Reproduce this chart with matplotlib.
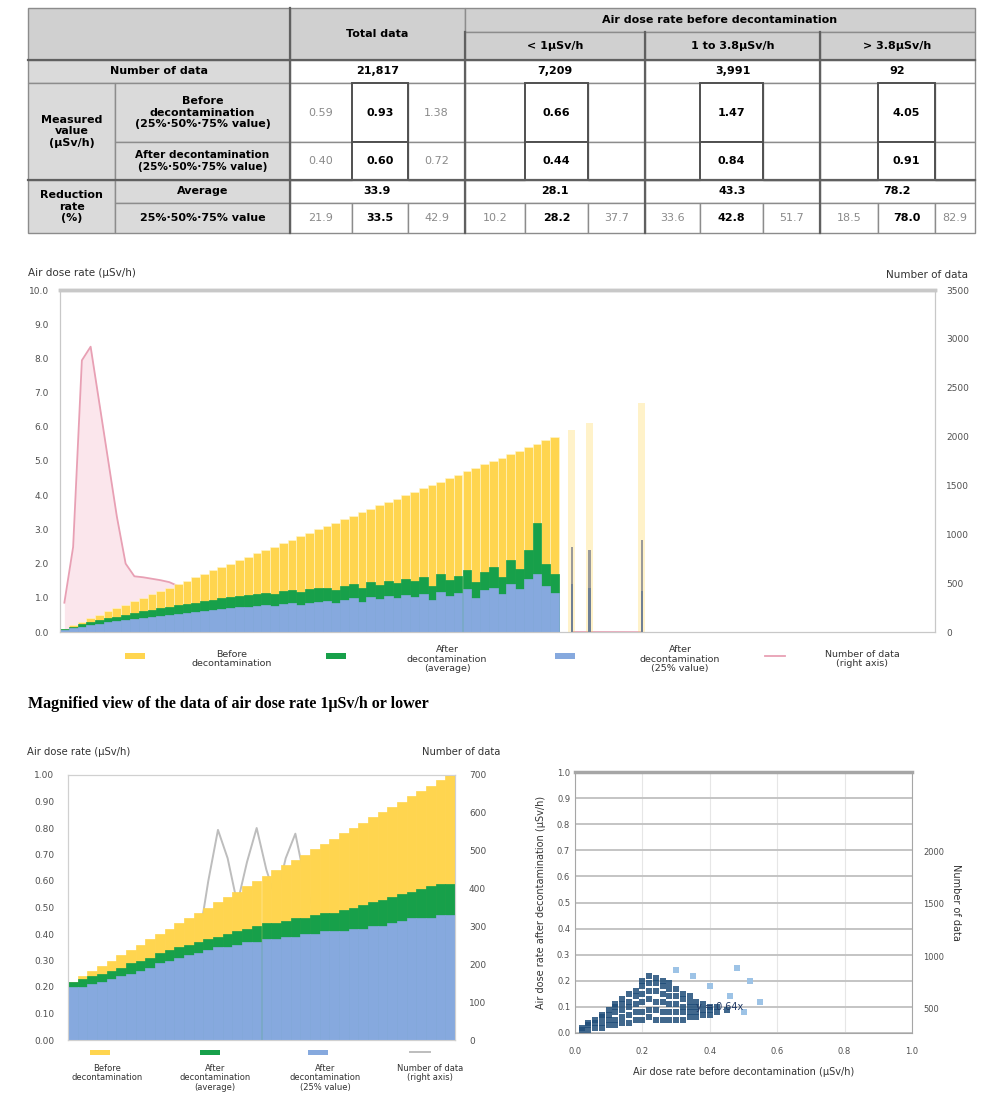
import matplotlib.pyplot as plt
from matplotlib.patches import Rectangle
import numpy as np

plt.rcParams['font.family'] = ['DejaVu Sans']

# ---------------- table data ----------------
group_names = ['< 1μSv/h', '1 to 3.8μSv/h', '> 3.8μSv/h']
n_data = ['21,817', '7,209', '3,991', '92']
before_vals = [['0.59', '0.93', '1.38'], ['', '0.66', ''], ['', '1.47', ''], ['', '4.05', '']]
after_vals = [['0.40', '0.60', '0.72'], ['', '0.44', ''], ['', '0.84', ''], ['', '0.91', '']]
red_avg = ['33.9', '28.1', '43.3', '78.2']
red_q = [['21.9', '33.5', '42.9'], ['10.2', '28.2', '37.7'],
         ['33.6', '42.8', '51.7'], ['18.5', '78.0', '82.9']]

# ---------------- main chart data (bins of before-decontamination dose rate) ----------------
main_bins = [0.1, 0.2, 0.3, 0.4, 0.5, 0.6, 0.7, 0.8, 0.9, 1.0,
             1.1, 1.2, 1.3, 1.4, 1.5, 1.6, 1.7, 1.8, 1.9, 2.0,
             2.1, 2.2, 2.3, 2.4, 2.5, 2.6, 2.7, 2.8, 2.9, 3.0,
             3.1, 3.2, 3.3, 3.4, 3.5, 3.6, 3.7, 3.8, 3.9, 4.0,
             4.1, 4.2, 4.3, 4.4, 4.5, 4.6, 4.7, 4.8, 4.9, 5.0,
             5.1, 5.2, 5.3, 5.4, 5.5, 5.6, 5.7]
main_after_avg = [0.08, 0.15, 0.22, 0.28, 0.34, 0.40, 0.45, 0.50, 0.55, 0.60,
                  0.65, 0.70, 0.74, 0.78, 0.82, 0.86, 0.90, 0.94, 0.98, 1.02,
                  1.05, 1.08, 1.12, 1.15, 1.10, 1.20, 1.22, 1.18, 1.25, 1.28,
                  1.30, 1.22, 1.35, 1.40, 1.28, 1.45, 1.38, 1.50, 1.42, 1.55,
                  1.48, 1.60, 1.35, 1.70, 1.52, 1.65, 1.80, 1.45, 1.75, 1.90,
                  1.60, 2.10, 1.85, 2.40, 3.20, 2.00, 1.70]
main_after_25 = [0.06, 0.11, 0.16, 0.20, 0.24, 0.28, 0.32, 0.35, 0.38, 0.42,
                 0.45, 0.48, 0.51, 0.54, 0.56, 0.59, 0.62, 0.64, 0.67, 0.70,
                 0.72, 0.74, 0.76, 0.78, 0.75, 0.82, 0.84, 0.80, 0.86, 0.88,
                 0.90, 0.85, 0.94, 0.98, 0.88, 1.02, 0.96, 1.05, 0.98, 1.08,
                 1.02, 1.12, 0.95, 1.18, 1.05, 1.15, 1.25, 1.00, 1.22, 1.30,
                 1.10, 1.40, 1.25, 1.55, 1.70, 1.35, 1.15]
main_count = [300, 870, 2780, 2920, 2340, 1760, 1180, 700, 570, 560,
              545, 530, 510, 470, 420, 370, 320, 280, 245, 215,
              190, 170, 150, 135, 120, 108, 96, 86, 77, 70,
              63, 57, 52, 47, 43, 39, 35, 32, 29, 27,
              24, 22, 20, 18, 16, 15, 13, 12, 11, 10,
              9, 8, 7, 6, 6, 5, 4]
# sparse high-dose bins
tail_bins = [5.9, 6.1, 6.7]
tail_after_avg = [2.50, 2.40, 2.70]
tail_after_25 = [1.40, 1.30, 1.20]
tail_count = [2, 2, 1]

# ---------------- magnified view data (<= 1 μSv/h) ----------------
mag_bins = [0.22, 0.24, 0.26, 0.28, 0.30, 0.32, 0.34, 0.36, 0.38, 0.40,
            0.42, 0.44, 0.46, 0.48, 0.50, 0.52, 0.54, 0.56, 0.58, 0.60,
            0.62, 0.64, 0.66, 0.68, 0.70, 0.72, 0.74, 0.76, 0.78, 0.80,
            0.82, 0.84, 0.86, 0.88, 0.90, 0.92, 0.94, 0.96, 0.98, 1.00]
mag_after_avg = [0.22, 0.23, 0.24, 0.25, 0.26, 0.27, 0.29, 0.30, 0.31, 0.33,
                 0.34, 0.35, 0.36, 0.37, 0.38, 0.39, 0.40, 0.41, 0.42, 0.43,
                 0.44, 0.44, 0.45, 0.46, 0.46, 0.47, 0.48, 0.48, 0.49, 0.50,
                 0.51, 0.52, 0.53, 0.54, 0.55, 0.56, 0.57, 0.58, 0.59, 0.59]
mag_after_25 = [0.20, 0.20, 0.21, 0.22, 0.23, 0.24, 0.25, 0.26, 0.27, 0.29,
                0.30, 0.31, 0.32, 0.33, 0.34, 0.35, 0.35, 0.36, 0.37, 0.37,
                0.38, 0.38, 0.39, 0.39, 0.40, 0.40, 0.41, 0.41, 0.41, 0.42,
                0.42, 0.43, 0.43, 0.44, 0.45, 0.46, 0.46, 0.46, 0.47, 0.47]
mag_count = [90, 105, 120, 135, 150, 160, 170, 180, 190, 200,
             210, 220, 235, 260, 420, 555, 480, 360, 470, 560,
             450, 370, 480, 545, 420, 330, 300, 280, 260, 245,
             230, 215, 200, 190, 180, 170, 160, 150, 140, 130]

# ---------------- scatter data (before vs after, <= 1 μSv/h) ----------------
sc_before = [0.02, 0.02, 0.04, 0.04, 0.04, 0.06, 0.06, 0.06, 0.08, 0.08, 0.08, 0.08,
             0.10, 0.10, 0.10, 0.10, 0.12, 0.12, 0.12, 0.12, 0.12,
             0.14, 0.14, 0.14, 0.14, 0.14, 0.16, 0.16, 0.16, 0.16, 0.16,
             0.18, 0.18, 0.18, 0.18, 0.18, 0.20, 0.20, 0.20, 0.20, 0.20, 0.20,
             0.22, 0.22, 0.22, 0.22, 0.22, 0.22, 0.24, 0.24, 0.24, 0.24, 0.24, 0.24,
             0.26, 0.26, 0.26, 0.26, 0.26, 0.26, 0.28, 0.28, 0.28, 0.28, 0.28, 0.28,
             0.30, 0.30, 0.30, 0.30, 0.30, 0.32, 0.32, 0.32, 0.32, 0.32,
             0.34, 0.34, 0.34, 0.34, 0.34, 0.36, 0.36, 0.36, 0.36,
             0.38, 0.38, 0.38, 0.40, 0.40, 0.40, 0.42, 0.42, 0.45]
sc_after = [0.01, 0.02, 0.01, 0.03, 0.04, 0.02, 0.04, 0.05, 0.02, 0.04, 0.06, 0.07,
            0.03, 0.05, 0.07, 0.09, 0.03, 0.05, 0.08, 0.10, 0.11,
            0.04, 0.06, 0.09, 0.11, 0.13, 0.04, 0.07, 0.10, 0.12, 0.15,
            0.05, 0.08, 0.11, 0.14, 0.16, 0.05, 0.08, 0.12, 0.15, 0.18, 0.20,
            0.06, 0.09, 0.13, 0.16, 0.19, 0.22, 0.05, 0.09, 0.12, 0.16, 0.19, 0.21,
            0.05, 0.08, 0.12, 0.15, 0.18, 0.20, 0.05, 0.08, 0.11, 0.14, 0.17, 0.19,
            0.05, 0.08, 0.11, 0.14, 0.17, 0.05, 0.08, 0.10, 0.13, 0.15,
            0.06, 0.08, 0.10, 0.12, 0.14, 0.06, 0.08, 0.10, 0.12,
            0.07, 0.09, 0.11, 0.07, 0.09, 0.10, 0.08, 0.10, 0.09]
sc_before_light = [0.30, 0.35, 0.40, 0.46, 0.50, 0.55, 0.48, 0.52]
sc_after_light = [0.24, 0.22, 0.18, 0.14, 0.08, 0.12, 0.25, 0.20]

YELLOW = '#ffd54f'
GREEN = '#17a04a'
BLUE = '#86a9de'
PINK = '#e8a0b4'

fig = plt.figure(figsize=(9.93, 10.98), dpi=100)

# pixel-based overlay for the table and hand-placed legends
axt = fig.add_axes([0, 0, 1, 1])
axt.set_xlim(0, 993)
axt.set_ylim(1098, 0)
axt.axis('off')


def cell(x0, x1, y0, y1, txt='', bg='white', bold=True, color='black', fs=8,
         ec='#8c8c8c', lw=1.0):
    axt.add_patch(Rectangle((x0, y0), x1 - x0, y1 - y0, facecolor=bg,
                            edgecolor=ec, lw=lw))
    if txt:
        axt.text((x0 + x1) / 2, (y0 + y1) / 2, txt, ha='center', va='center',
                 fontsize=fs, fontweight='bold' if bold else 'normal',
                 color=color, linespacing=1.15)


HDR = '#d0d0d0'
ROW = '#dadada'
grp = [(290, 352, 408, 465), (465, 525, 588, 645), (645, 700, 763, 820), (820, 878, 935, 975)]

cell(28, 290, 8, 60, bg=HDR)
cell(290, 465, 8, 60, 'Total data', bg=HDR)
cell(465, 975, 8, 32, 'Air dose rate before decontamination', bg=HDR)
for (a, _, _, b), name in zip(grp[1:], group_names):
    cell(a, b, 32, 60, name, bg=HDR)
cell(28, 290, 60, 83, 'Number of data', bg=ROW)
cell(28, 115, 83, 180, 'Measured\nvalue\n(μSv/h)', bg=ROW)
cell(115, 290, 83, 142, 'Before\ndecontamination\n(25%·50%·75% value)', bg=ROW)
cell(115, 290, 142, 180, 'After decontamination\n(25%·50%·75% value)', bg=ROW, fs=7.6)
cell(28, 115, 180, 233, 'Reduction\nrate\n(%)', bg=ROW)
cell(115, 290, 180, 203, 'Average', bg=ROW)
cell(115, 290, 203, 233, '25%·50%·75% value', bg=ROW)

for g, (a, b, c, d) in enumerate(grp):
    cell(a, d, 60, 83, n_data[g])
    cell(a, d, 180, 203, red_avg[g])
    for row_vals, y0, y1 in [(before_vals[g], 83, 142), (after_vals[g], 142, 180)]:
        cell(a, b, y0, y1, row_vals[0], bold=False, color='#8a8a8a')
        cell(c, d, y0, y1, row_vals[2], bold=False, color='#8a8a8a')
        cell(b, c, y0, y1, row_vals[1], ec='#505050', lw=1.4)
    q = red_q[g]
    cell(a, b, 203, 233, q[0], bold=False, color='#8a8a8a')
    cell(b, c, 203, 233, q[1])
    cell(c, d, 203, 233, q[2], bold=False, color='#8a8a8a')
for xv in (290, 465, 645, 820):
    axt.plot([xv, xv], [8 if xv == 290 else 32, 233], color='#606060', lw=1.6)
axt.plot([28, 975], [60, 60], color='#606060', lw=1.6)
axt.plot([28, 975], [180, 180], color='#606060', lw=1.6)

# ---------------- main chart ----------------
ax1 = fig.add_axes([60 / 993, 1 - 632 / 1098, 875 / 993, 342 / 1098])
ax1b = ax1.twinx()
mx = np.array(main_bins)
tx = np.array(tail_bins)
ax1b.fill_between(mx - 0.05, main_count, color='#fbe6ec', lw=0)
ax1b.plot(mx - 0.05, main_count, color=PINK, lw=1.3)
ax1b.plot(tx - 0.05, tail_count, color=PINK, lw=1.0)
ax1b.set_ylim(0, 3500)
ax1b.set_yticks(range(0, 3501, 500))

ax1.bar(mx - 0.05, main_bins, width=0.1, color=YELLOW, edgecolor='#fff6cc', lw=0.4)
ax1.bar(mx - 0.05, main_after_avg, width=0.1, color=GREEN, edgecolor=GREEN, lw=0.5)
ax1.bar(mx - 0.05, main_after_25, width=0.1, color=BLUE, edgecolor=BLUE, lw=0.5)
ax1.bar(tx - 0.05, tail_bins, width=0.08, color=YELLOW, alpha=0.3, lw=0)
ax1.bar(tx - 0.05, tail_after_avg, width=0.03, color='#9a9a9a', lw=0)
ax1.bar(tx - 0.05, tail_after_25, width=0.03, color='#6f7f95', lw=0)
ax1.set_xlim(0, 10)
ax1.set_ylim(0, 10)
ax1.set_yticks(np.arange(0, 10.01, 1.0))
ax1.yaxis.set_major_formatter('{x:.1f}')
ax1.set_xticks([])
ax1.set_zorder(ax1b.get_zorder() + 1)
ax1.patch.set_visible(False)
for a in (ax1, ax1b):
    for s in a.spines.values():
        s.set_color('#c8c8c8')
    a.spines['top'].set_linewidth(2.5)
    a.tick_params(length=0, labelsize=6.5, colors='#505050', pad=8)

axt.text(28, 273, 'Air dose rate (μSv/h)', fontsize=7.5, va='center', color='#333333')
axt.text(968, 275, 'Number of data', fontsize=7.5, va='center', ha='right', color='#333333')

main_leg = [(135, YELLOW, 'Before\ndecontamination', 232),
            (336, GREEN, 'After\ndecontamination\n(average)', 447),
            (565, BLUE, 'After\ndecontamination\n(25% value)', 680)]
for px, col, lab, lx in main_leg:
    axt.add_patch(Rectangle((px - 10, 653), 20, 6, facecolor=col, lw=0))
    axt.text(lx, 659, lab, ha='center', va='center', fontsize=6.8, color='#333333',
             linespacing=1.05)
axt.plot([765, 785], [656, 656], color=PINK, lw=1.3)
axt.text(862, 659, 'Number of data\n(right axis)', ha='center', va='center',
         fontsize=6.8, color='#333333', linespacing=1.05)

axt.text(28, 704, 'Magnified view of the data of air dose rate 1μSv/h or lower',
         fontsize=11.5, fontweight='bold', family='Liberation Serif', va='center')

# ---------------- magnified view ----------------
ax2 = fig.add_axes([68 / 993, 1 - 1040 / 1098, 387 / 993, 265 / 1098])
ax2b = ax2.twinx()
ax2b.plot(mag_bins, mag_count, color='#bdbdbd', lw=1.4)
ax2b.set_ylim(0, 700)
ax2b.set_yticks(range(0, 701, 100))
ax2.bar(mag_bins, mag_bins, width=0.02, color=YELLOW, edgecolor=YELLOW, lw=0.5)
ax2.bar(mag_bins, mag_after_avg, width=0.02, color=GREEN, edgecolor=GREEN, lw=0.5)
ax2.bar(mag_bins, mag_after_25, width=0.02, color=BLUE, edgecolor=BLUE, lw=0.5)
ax2.set_xlim(0.21, 1.01)
ax2.set_ylim(0, 1.0)
ax2.set_yticks(np.arange(0, 1.001, 0.1))
ax2.yaxis.set_major_formatter('{x:.2f}')
ax2.set_xticks([])
ax2.set_zorder(ax2b.get_zorder() + 1)
ax2.patch.set_visible(False)
for a in (ax2, ax2b):
    for s in a.spines.values():
        s.set_color('#d0d0d0')
    a.tick_params(length=0, labelsize=6.5, colors='#505050', pad=10)

axt.text(27, 752, 'Air dose rate (μSv/h)', fontsize=7.2, va='center', color='#333333')
axt.text(500, 752, 'Number of data', fontsize=7.2, va='center', ha='right', color='#333333')

mag_leg = [(100, YELLOW, 'Before\ndecontamination', 107),
           (210, GREEN, 'After\ndecontamination\n(average)', 215),
           (318, BLUE, 'After\ndecontamination\n(25% value)', 325)]
for px, col, lab, lx in mag_leg:
    axt.add_patch(Rectangle((px - 10, 1050), 20, 5, facecolor=col, lw=0))
    axt.text(lx, 1064, lab, ha='center', va='top', fontsize=6, color='#333333',
             linespacing=1.05)
axt.plot([410, 430], [1052, 1052], color='#bdbdbd', lw=1.4)
axt.text(430, 1064, 'Number of data\n(right axis)', ha='center', va='top',
         fontsize=6, color='#333333', linespacing=1.05)

# ---------------- scatter ----------------
ax3 = fig.add_axes([575 / 993, 1 - 1033 / 1098, 337 / 993, 261 / 1098])
ax3.set_xlim(0, 1.0)
ax3.set_ylim(0, 1.0)
ax3.set_yticks(np.arange(0, 1.001, 0.1))
ax3.set_xticks(np.arange(0, 1.001, 0.2))
ax3.yaxis.set_major_formatter('{x:.1f}')
ax3.xaxis.set_major_formatter('{x:.1f}')
ax3.grid(axis='y', color='#c4c4c4', lw=1.4)
ax3.grid(axis='x', color='#e6e6e6', lw=0.8)
ax3.set_axisbelow(True)
ax3.scatter(sc_before_light, sc_after_light, marker='s', s=20, color='#9dc3e6', lw=0)
ax3.scatter(sc_before, sc_after, marker='s', s=24, color='#1f4e79', alpha=0.85, lw=0)
ax3.text(0.36, 0.09, 'y = 0.64x', fontsize=7, color='#1f3864')
for s in ax3.spines.values():
    s.set_color('#a6a6a6')
ax3.spines['top'].set_linewidth(2.5)
ax3.tick_params(length=0, labelsize=6, colors='#505050')
ax3.tick_params(axis='x', pad=10)
ax3.set_xlabel('Air dose rate before decontamination (μSv/h)', fontsize=7, color='#333333',
               labelpad=8)
ax3.set_ylabel('Air dose rate after decontamination (μSv/h)', fontsize=7, color='#333333',
               labelpad=8)
ax3b = ax3.twinx()
ax3b.set_ylim(261, 2766)
ax3b.set_yticks([500, 1000, 1500, 2000])
ax3b.tick_params(length=0, labelsize=6, colors='#505050', pad=8)
for s in ax3b.spines.values():
    s.set_visible(False)
ax3b.set_ylabel('Number of data', fontsize=7, color='#333333', rotation=270, labelpad=12)

fig.savefig('out.png', dpi=100)
